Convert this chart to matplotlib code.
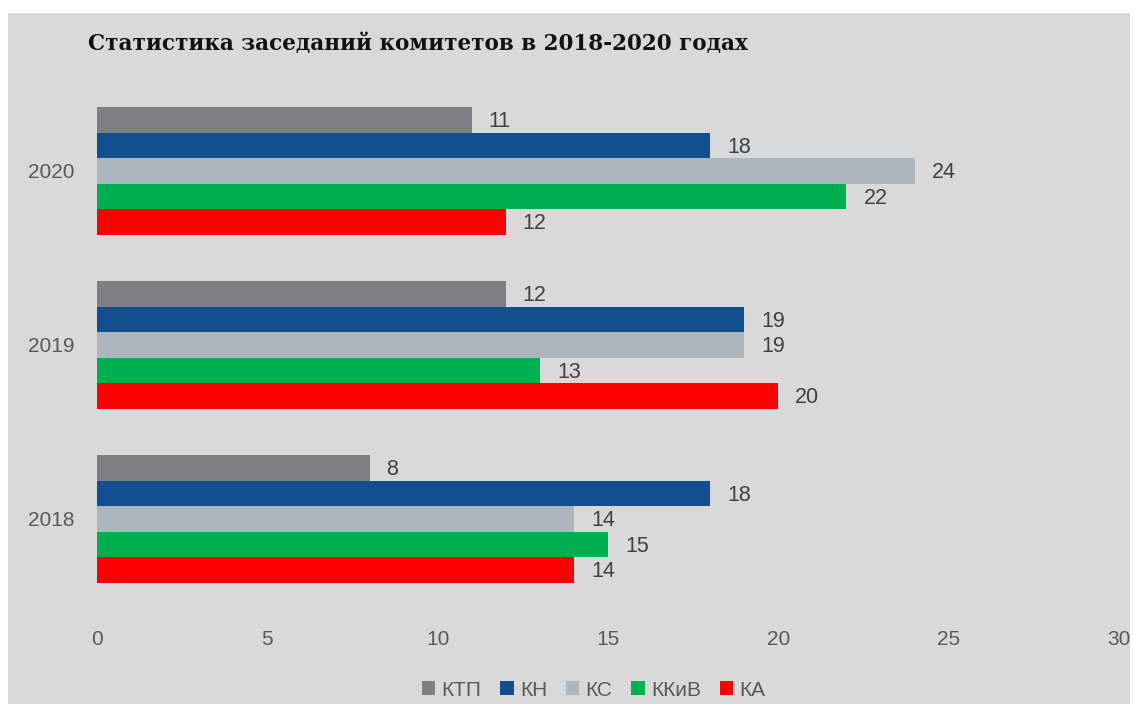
import numpy as np
import matplotlib
matplotlib.use("Agg")
import matplotlib.pyplot as plt
from matplotlib.patches import Rectangle

years = ["2018", "2019", "2020"]
series = ["КТП", "КН", "КС", "ККиВ", "КА"]
values = {
    "КТП": [8, 12, 11],
    "КН": [18, 19, 18],
    "КС": [14, 19, 24],
    "ККиВ": [15, 13, 22],
    "КА": [14, 20, 12],
}
colors = ["#807f84", "#134f8f", "#adb5bd", "#00b050", "#ff0000"]

plt.rcParams['font.family'] = ['Liberation Sans', 'DejaVu Sans']
txt = "#595959"

fig = plt.figure(figsize=(11.35, 7.04), dpi=100)
fig.patches.append(Rectangle((8 / 1135, 0), 1122 / 1135, 1 - 13 / 704,
                             transform=fig.transFigure, facecolor="#d9d9d9",
                             edgecolor="none", zorder=-5))

ax = fig.add_axes([97 / 1135, 1 - 606 / 704, 1022 / 1135, (606 - 84) / 704])
ax.set_facecolor("none")
ax.set_zorder(2)

y = np.arange(len(years))
h = 0.146
for i, s in enumerate(series):
    pos = y + (2 - i) * h
    ax.barh(pos, values[s], height=h, color=colors[i], label=s, zorder=2)
    for p, v in zip(pos, values[s]):
        ax.text(v + 0.5, p - 0.01, str(v), va="center", ha="left", fontsize=15.5,
                color="#404040")

ax.set_xlim(0, 30)
ax.set_ylim(-0.5, 2.5)
ax.set_xticks(range(0, 31, 5))
ax.set_yticks(y)
ax.set_yticklabels(years)
for sp in ax.spines.values():
    sp.set_visible(False)
ax.tick_params(length=0, labelsize=15, colors=txt)
ax.tick_params(axis="x", pad=17)
ax.tick_params(axis="y", pad=16)

fig.text(88 / 1135, 1 - 44 / 704, "Статистика заседаний комитетов в 2018-2020 годах",
         family=["DejaVu Serif"], fontweight="bold", fontsize=15.5,
         va="center", ha="left", color="#111111")

leg = fig.legend(loc="center", bbox_to_anchor=(0.523, 1 - 690 / 704), ncol=5,
                 frameon=False, fontsize=15, handlelength=0.65, handleheight=0.65,
                 handletextpad=0.3, columnspacing=0.9)
for t in leg.get_texts():
    t.set_color(txt)

fig.savefig("out.png", dpi=100)
